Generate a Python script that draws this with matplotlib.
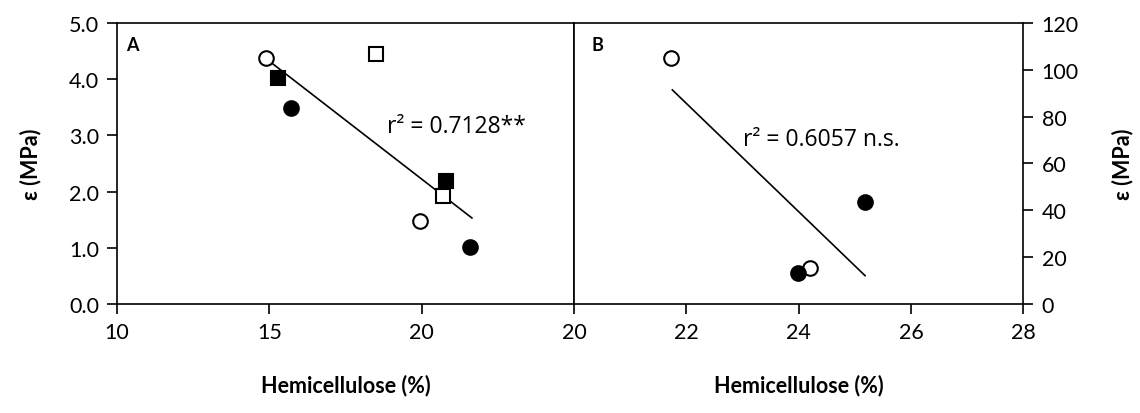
import matplotlib
matplotlib.use("Agg")
import matplotlib.pyplot as plt

plt.rcParams['font.family'] = ['Lato', 'DejaVu Sans']

# panel A data (MPa)
a_open_circ_x = [14.9, 19.95]
a_open_circ_y = [4.38, 1.48]
a_fill_circ_x = [15.7, 21.6]
a_fill_circ_y = [3.49, 1.01]
a_open_sq_x = [18.5, 20.7]
a_open_sq_y = [4.45, 1.92]
a_fill_sq_x = [15.3, 20.8]
a_fill_sq_y = [4.02, 2.19]
a_fit_x = [14.95, 21.65]
a_fit_y = [4.34, 1.53]

# panel B data (MPa)
b_open_circ_x = [21.73, 24.2]
b_open_circ_y = [105, 15.2]
b_fill_circ_x = [25.18, 23.98]
b_fill_circ_y = [43.4, 13.2]
b_fit_x = [21.75, 25.18]
b_fit_y = [91.4, 12.1]

a_xticks = [10, 15, 20]
a_yticks = [0, 1, 2, 3, 4, 5]
b_xticks = [20, 22, 24, 26, 28]
b_yticks = [0, 20, 40, 60, 80, 100, 120]

fig = plt.figure(figsize=(11.4, 4.14), dpi=100)
ax1 = fig.add_axes([0.1026, 0.2633, 0.4009, 0.679])
ax2 = fig.add_axes([0.5035, 0.2633, 0.3943, 0.679])

fs = 15.5
ms = 10.5
mew = 1.5
ann_font = ['Open Sans', 'DejaVu Sans']

# --- panel A
ax1.plot(a_fit_x, a_fit_y, color='black', lw=1.2, zorder=2)
ax1.plot(a_open_circ_x, a_open_circ_y, 'o', mfc='white', mec='black', ms=ms, mew=mew, zorder=3)
ax1.plot(a_fill_circ_x, a_fill_circ_y, 'o', mfc='black', mec='black', ms=ms, mew=mew, zorder=3)
ax1.plot(a_open_sq_x, a_open_sq_y, 's', mfc='white', mec='black', ms=ms, mew=mew, zorder=3)
ax1.plot(a_fill_sq_x, a_fill_sq_y, 's', mfc='black', mec='black', ms=ms, mew=mew, zorder=3)
ax1.set_xlim(10, 25)
ax1.set_ylim(0, 5)
ax1.set_xticks(a_xticks)
ax1.set_yticks(a_yticks)
ax1.set_yticklabels(['%.1f' % v for v in a_yticks])
ax1.text(0.02, 0.955, 'A', transform=ax1.transAxes, fontsize=13, fontweight='bold', va='top')
ax1.text(18.85, 3.17, 'r² = 0.7128**', fontsize=16.5, family=ann_font, va='center')
ax1.set_ylabel('ε (MPa)', fontsize=fs, fontweight='bold', labelpad=20)
ax1.set_xlabel('Hemicellulose (%)', fontsize=fs, fontweight='bold', labelpad=23)

# --- panel B
ax2.plot(b_fit_x, b_fit_y, color='black', lw=1.2, zorder=2)
ax2.plot(b_open_circ_x, b_open_circ_y, 'o', mfc='white', mec='black', ms=ms, mew=mew, zorder=3)
ax2.plot(b_fill_circ_x, b_fill_circ_y, 'o', mfc='black', mec='black', ms=ms, mew=mew, zorder=3)
ax2.set_xlim(20, 28)
ax2.set_ylim(0, 120)
ax2.set_xticks(b_xticks)
ax2.set_yticks(b_yticks)
ax2.yaxis.tick_right()
ax2.yaxis.set_label_position('right')
ax2.text(0.04, 0.955, 'B', transform=ax2.transAxes, fontsize=13, fontweight='bold', va='top')
ax2.text(23.0, 70.5, 'r² = 0.6057 n.s.', fontsize=16.5, family=ann_font, va='center')
ax2.set_ylabel('ε (MPa)', fontsize=fs, fontweight='bold', labelpad=24, rotation=90)
ax2.set_xlabel('Hemicellulose (%)', fontsize=fs, fontweight='bold', labelpad=23)

for ax in (ax1, ax2):
    ax.tick_params(direction='out', length=7, width=1.2, labelsize=fs, colors='black', pad=6)
    for s in ax.spines.values():
        s.set_linewidth(1.2)
        s.set_color('black')
ax2.tick_params(axis='y', left=False, right=True)

fig.savefig('out.png', dpi=100)
